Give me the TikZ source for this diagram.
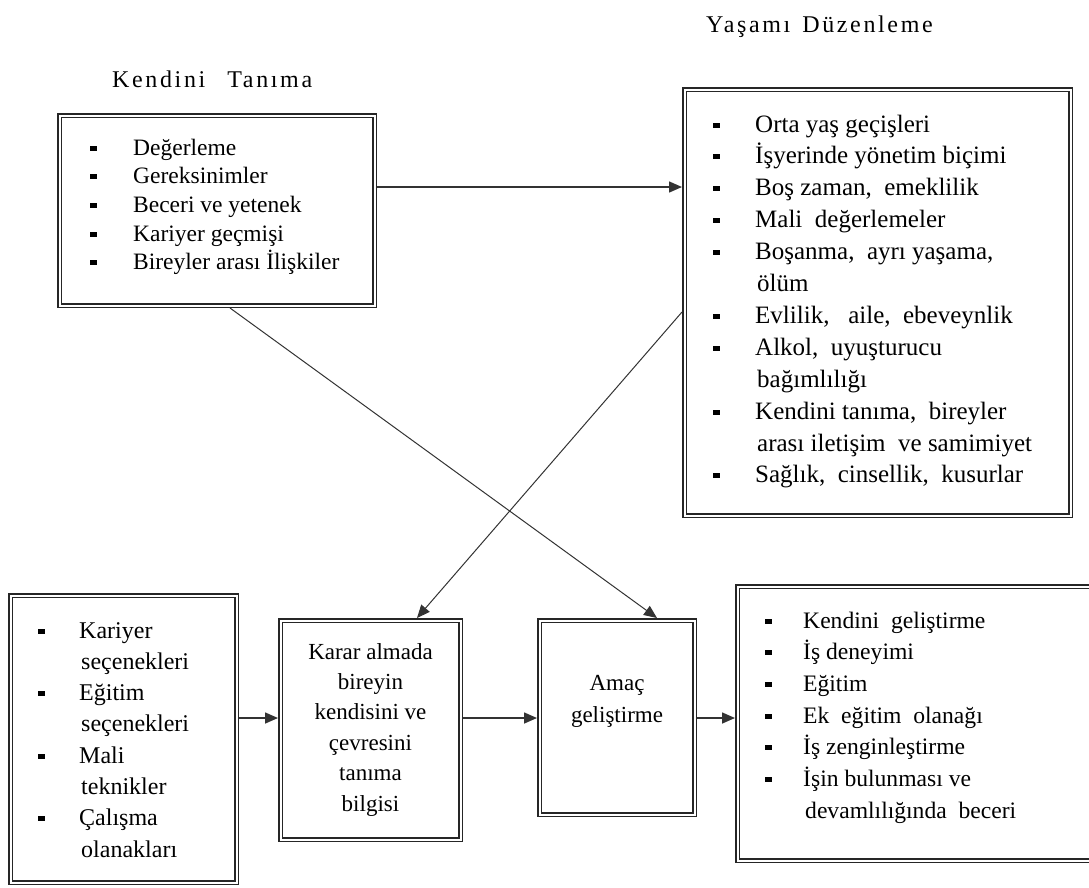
\documentclass[tikz,border=0pt]{standalone}
\usepackage{fontspec}
\setmainfont{Liberation Serif}
\newfontfamily\titlefont[LetterSpace=11]{Liberation Serif}
\usetikzlibrary{arrows.meta}

\newlength\bulw
\newcommand{\itm}{\makebox[\bulw][l]{\rule[4.5pt]{6.5pt}{5pt}}}
\newcommand{\cont}{\hspace*{\bulw}\hspace*{2pt}}

\tikzset{
  box/.style={draw=black!85, double=white, double distance=2pt, line width=1.5pt,
    outer sep=2.5pt, inner sep=0pt},
  txt/.style={inner sep=0pt, anchor=base west},
  list/.style={txt, execute at begin node={\setlength\bulw{#1}}},
  arr/.style={-{Triangle[length=13pt,width=11pt]}, line width=1.5pt, draw=black!80},
  diag/.style={arr, line width=1pt},
}

\begin{document}
\begin{tikzpicture}[x=1pt,y=-1pt]
\useasboundingbox (0,0) rectangle (1089,887);

% titles
\node[txt, font=\titlefont\fontsize{24}{28}\selectfont] (ttl1) at (112,87) {Kendini\hspace{22pt}Tanıma};
\node[txt, font=\titlefont\fontsize{24}{28}\selectfont] (ttl2) at (706,32) {Yaşamı\hspace{12pt}Düzenleme};

% boxes
\node[box, minimum width=315pt, minimum height=190pt] (kt) at (217,210.5) {};
\node[box, minimum width=386pt, minimum height=426pt] (yd) at (877.5,302.5) {};
\node[box, minimum width=226pt, minimum height=287pt] (bl) at (123.5,739) {};
\node[box, minimum width=180pt, minimum height=219pt] (karar) at (370.5,730) {};
\node[box, minimum width=155pt, minimum height=194pt] (amac) at (617,717.5) {};
\node[box, minimum width=355pt, minimum height=274pt] (hedef) at (915,723.5) {};

% box texts
\node[list=43pt, font=\fontsize{23.5}{28.7}\selectfont] (ktt) at (90,155) {%
  \begin{tabular}[t]{@{}l@{}}
  \itm Değerleme\\
  \itm Gereksinimler\\
  \itm Beceri ve yetenek\\
  \itm Kariyer geçmişi\\
  \itm Bireyler arası İlişkiler
  \end{tabular}};
\node[list=42pt, font=\fontsize{25}{31.9}\selectfont] (ydt) at (713,132) {%
  \begin{tabular}[t]{@{}l@{}}
  \itm Orta yaş geçişleri\\
  \itm İşyerinde yönetim biçimi\\
  \itm Boş zaman,\ \ emeklilik\\
  \itm Mali\ \ değerlemeler\\
  \itm Boşanma,\ \ ayrı yaşama,\\
  \cont ölüm\\
  \itm Evlilik,\ \ \ aile,\ \ ebeveynlik\\
  \itm Alkol,\ \ uyuşturucu\\
  \cont bağımlılığı\\
  \itm Kendini tanıma,\ \ bireyler\\
  \cont arası iletişim\ \ ve samimiyet\\
  \itm Sağlık,\ \ cinsellik,\ \ kusurlar
  \end{tabular}};
\node[list=41pt, font=\fontsize{24}{31.3}\selectfont] (blt) at (38,638) {%
  \begin{tabular}[t]{@{}l@{}}
  \itm Kariyer\\
  \cont seçenekleri\\
  \itm Eğitim\\
  \cont seçenekleri\\
  \itm Mali\\
  \cont teknikler\\
  \itm Çalışma\\
  \cont olanakları
  \end{tabular}};
\node[txt, anchor=base, font=\fontsize{23}{30.4}\selectfont] (karart) at (370.5,659) {%
  \begin{tabular}[t]{@{}c@{}}
  Karar almada\\ bireyin\\ kendisini ve\\ çevresini\\ tanıma\\ bilgisi
  \end{tabular}};
\node[txt, anchor=base, font=\fontsize{23}{32}\selectfont] (amact) at (617,690) {%
  \begin{tabular}[t]{@{}c@{}}
  Amaç\\ geliştirme
  \end{tabular}};
\node[list=38pt, font=\fontsize{23.6}{31.7}\selectfont] (hedeft) at (765,628) {%
  \begin{tabular}[t]{@{}l@{}}
  \itm Kendini\ \ geliştirme\\
  \itm İş deneyimi\\
  \itm Eğitim\\
  \itm Ek\ \ eğitim\ \ olanağı\\
  \itm İş zenginleştirme\\
  \itm İşin bulunması ve\\
  \cont devamlılığında\ \ beceri
  \end{tabular}};

% connectors
\coordinate (top) at (0,187);
\coordinate (row) at (0,718);
\draw[arr] (kt.east |- top) -- (yd.west |- top);
\draw[arr] (bl.east |- row) -- (karar.west |- row);
\draw[arr] (karar.east |- row) -- (amac.west |- row);
\draw[arr] (amac.east |- row) -- (hedef.west |- row);
\draw[diag] ([xshift=13pt]kt.south) -- ([xshift=40pt]amac.north);
\draw[diag] ([yshift=-9.5pt]yd.west) -- ([xshift=46.5pt]karar.north);
\end{tikzpicture}
\end{document}
